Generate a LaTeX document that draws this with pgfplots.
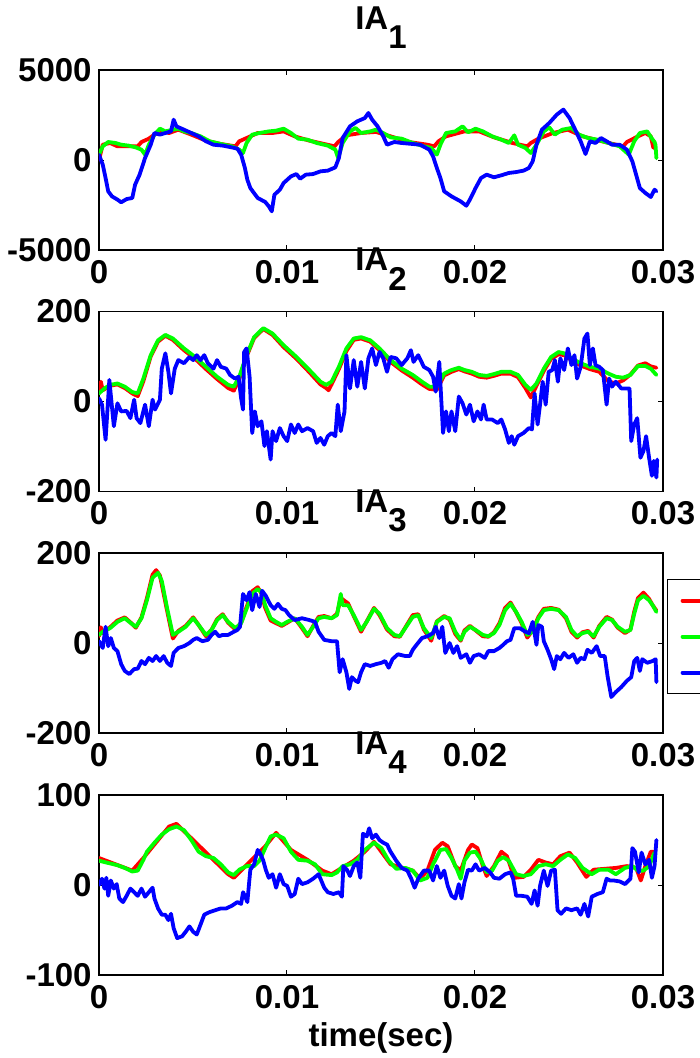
\documentclass[border=0pt]{standalone}
\usepackage{pgfplots}
\pgfplotsset{compat=1.18}
\usepackage{fontspec}
\setmainfont{Liberation Sans}
\definecolor{mred}{rgb}{1,0,0}
\definecolor{mgreen}{rgb}{0,1,0}
\definecolor{mblue}{rgb}{0,0,1}
\newcommand{\tfont}{\fontsize{16.5bp}{19bp}\selectfont\bfseries}
\pgfplotsset{
  panel/.style={
    scale only axis, width=282bp, height=90bp,
    xmin=0, xmax=30, xtick={0,10,20,30}, xticklabels={0,0.01,0.02,0.03},
    tick align=inside, major tick length=2.5bp,
    axis line style={line width=0.7bp},
    every tick/.style={black, line width=0.5bp},
    xticklabel style={font=\tfont, anchor=base, yshift=-16.5bp, inner sep=0pt},
    yticklabel style={font=\tfont, anchor=east, xshift=-3.5bp, inner sep=0pt},
    every axis title/.style={font=\tfont, at={(axis description cs:0.5,1)}, anchor=base, yshift=20.5bp, inner sep=0pt},
    every axis plot/.append style={line width=1.9bp, line join=round, line cap=round},
    anchor=north west,
  },
}
\begin{document}
\begin{tikzpicture}
% ---------------- Panel 1 ----------------
\begin{axis}[panel, at={(49.5bp,-35bp)},
  ymin=-5000, ymax=5000, ytick={-5000,0,5000}, yticklabels={-5000,0,5000},
  title={IA\raisebox{-0.6em}{1}}]
\addplot[mred] coordinates {(0,20)(0.20,850)(0.59,945)(0.98,760)(1.57,760)(2.06,760)(2.26,1000)(2.65,1185)(2.95,1410)(3.34,1590)(3.73,1500)(4.22,1685)(4.91,1410)(5.69,1075)(6.48,890)(7.26,760)(7.46,1040)(7.85,1220)(8.44,1500)(9.23,1500)(9.82,1590)(10.41,1315)(11.19,1075)(11.98,890)(12.53,760)(12.72,1000)(13.16,1370)(13.94,1500)(14.73,1560)(15.51,1315)(16.49,1000)(17.47,850)(17.83,760)(18.06,1040)(18.46,1315)(19.44,1590)(20.22,1590)(21.01,1260)(21.99,945)(22.78,760)(22.97,945)(23.37,1185)(24.15,1500)(24.94,1685)(25.72,1315)(26.90,1000)(27.88,760)(28.08,1000)(28.67,1315)(29.06,1500)(29.35,1315)(29.49,670)};
\addplot[mgreen] coordinates {(0,300)(0.20,760)(0.49,1000)(0.88,945)(1.18,850)(1.57,800)(1.96,700)(2.26,575)(2.45,300)(2.65,850)(2.95,1410)(3.24,1740)(3.53,1590)(3.93,1685)(4.22,1740)(4.52,1590)(4.91,1500)(5.40,1315)(5.89,1040)(6.48,890)(7.07,760)(7.46,575)(7.66,390)(7.85,945)(8.15,1410)(8.54,1500)(9.03,1590)(9.42,1630)(9.82,1740)(10.21,1500)(10.60,1185)(11.09,1130)(11.58,945)(12.17,800)(12.57,575)(12.72,110)(12.96,945)(13.35,1590)(13.65,1780)(13.94,1500)(14.43,1590)(14.73,1685)(15.12,1500)(15.51,1260)(16.10,1185)(16.69,945)(17.28,760)(17.67,670)(17.97,300)(18.16,850)(18.46,1500)(18.95,1590)(19.34,1870)(19.63,1540)(20.03,1740)(20.42,1590)(20.91,1315)(21.40,1130)(21.80,945)(22.09,1370)(22.29,850)(22.68,670)(22.97,390)(23.27,850)(23.66,1590)(23.95,1815)(24.25,1410)(24.64,1685)(25.13,1780)(25.53,1410)(26.02,1220)(26.51,1130)(27.10,945)(27.69,760)(28.18,300)(28.47,1040)(28.77,1500)(29.16,1590)(29.45,1130)(29.55,1000)(29.60,850)(29.65,100)};
\addplot[mblue] coordinates {(0,296)(0.20,-260)(0.35,-1000)(0.49,-1740)(0.69,-2020)(0.98,-2200)(1.18,-2350)(1.47,-2170)(1.77,-2110)(1.92,-1370)(2.16,-815)(2.45,110)(2.75,850)(2.95,1500)(3.24,1410)(3.53,1500)(3.83,1590)(3.97,2240)(4.12,1870)(4.52,1685)(4.91,1500)(5.30,1315)(5.69,1040)(6.09,850)(6.58,800)(7.07,700)(7.36,630)(7.56,300)(7.76,-440)(7.89,-1090)(8.05,-1560)(8.44,-2110)(8.84,-2330)(9.03,-2570)(9.19,-2850)(9.33,-1930)(9.62,-1650)(9.82,-1280)(10.21,-910)(10.50,-780)(10.70,-1040)(11.00,-815)(11.39,-780)(11.78,-630)(12.17,-590)(12.57,-410)(12.76,110)(12.96,1220)(13.35,1870)(13.74,2150)(14.14,2330)(14.33,2610)(14.53,2240)(14.82,1870)(15.12,1315)(15.32,850)(15.71,1000)(16.10,945)(16.69,890)(17.08,850)(17.57,575)(17.77,200)(17.97,-440)(18.16,-1000)(18.36,-1740)(18.75,-2020)(19.24,-2300)(19.54,-2540)(19.73,-2200)(20.03,-1560)(20.32,-1000)(20.62,-815)(21.01,-960)(21.40,-850)(21.80,-720)(22.19,-670)(22.58,-590)(22.87,-440)(23.07,-75)(23.27,850)(23.56,1685)(23.95,2055)(24.35,2520)(24.70,2800)(25.03,2330)(25.33,1685)(25.62,1040)(25.88,330)(26.11,1040)(26.41,945)(26.70,1220)(27.00,1040)(27.29,850)(27.69,850)(28.08,575)(28.37,-75)(28.57,-815)(28.77,-1560)(29.06,-1830)(29.35,-2055)(29.55,-1650)(29.65,-1740)};
\end{axis}
% ---------------- Panel 2 ----------------
\begin{axis}[panel, at={(49.5bp,-155.75bp)},
  ymin=-200, ymax=200, ytick={-200,0,200}, yticklabels={-200,0,200},
  title={IA\raisebox{-0.6em}{2}}]
\addplot[mred] coordinates {(0,22)(0.10,44)(0.20,25)(0.59,35)(0.98,38)(1.37,30)(1.77,18)(2.06,12)(2.36,45)(2.75,100)(3.14,133)(3.53,146)(3.93,137)(4.52,114)(5.11,95)(5.69,72)(6.28,50)(6.87,30)(7.17,24)(7.46,50)(7.85,100)(8.25,141)(8.74,161)(9.23,148)(9.82,121)(10.50,95)(11.19,65)(11.78,38)(12.08,30)(12.21,25)(12.37,38)(12.76,72)(13.16,112)(13.55,137)(13.94,140)(14.43,133)(14.92,114)(15.51,88)(16.10,69)(16.69,53)(17.18,38)(17.57,28)(17.97,26)(18.36,58)(18.75,66)(19.14,72)(19.44,67)(19.83,62)(20.22,55)(20.62,53)(21.01,57)(21.40,62)(21.89,62)(22.29,54)(22.68,30)(22.97,9)(23.27,35)(23.66,68)(24.05,95)(24.45,105)(24.74,103)(25.13,92)(25.62,80)(26.11,72)(26.61,66)(27.10,45)(27.49,40)(27.88,47)(28.27,60)(28.67,80)(29.06,85)(29.35,78)(29.65,75)};
\addplot[mgreen] coordinates {(0,18)(0.29,29)(0.59,37)(0.98,40)(1.37,33)(1.77,21)(2.06,18)(2.36,51)(2.75,103)(3.14,136)(3.53,148)(3.93,140)(4.52,118)(5.11,99)(5.69,77)(6.28,55)(6.87,37)(7.17,33)(7.46,55)(7.85,103)(8.25,143)(8.74,163)(9.23,151)(9.82,125)(10.50,99)(11.19,70)(11.78,44)(12.08,37)(12.37,44)(12.76,77)(13.16,118)(13.55,140)(13.94,143)(14.43,136)(14.92,118)(15.51,92)(16.10,73)(16.69,59)(17.18,44)(17.57,33)(17.97,33)(18.36,62)(18.75,70)(19.14,75)(19.44,70)(19.83,66)(20.22,59)(20.62,57)(21.01,61)(21.40,66)(21.89,66)(22.29,59)(22.68,37)(22.97,26)(23.27,40)(23.66,73)(24.05,99)(24.45,110)(24.74,107)(25.13,96)(25.62,85)(26.11,77)(26.61,73)(27.10,62)(27.49,55)(27.88,53)(28.27,59)(28.67,79)(29.06,79)(29.35,73)(29.65,59)};
\addplot[mblue] coordinates {(0,7)(0.16,-7)(0.35,-85)(0.55,48)(0.79,-55)(0.98,-4)(1.18,-22)(1.47,-21)(1.67,-37)(1.87,4)(2.00,-37)(2.20,-48)(2.45,-7)(2.65,-55)(2.85,4)(2.98,-18)(3.24,4)(3.34,73)(3.53,107)(3.69,66)(3.83,18)(4.03,73)(4.22,92)(4.52,85)(4.81,99)(5.01,92)(5.20,103)(5.40,92)(5.60,103)(5.79,85)(6.09,73)(6.28,92)(6.48,77)(6.77,73)(6.97,59)(7.23,51)(7.42,55)(7.56,7)(7.66,-18)(7.72,110)(7.85,118)(8.01,55)(8.15,-70)(8.29,-22)(8.44,-55)(8.64,-44)(8.80,-99)(8.93,-66)(9.13,-129)(9.23,-66)(9.42,-88)(9.62,-59)(9.82,-77)(10.01,-88)(10.21,-51)(10.41,-70)(10.60,-51)(10.80,-66)(11.09,-59)(11.39,-66)(11.58,-92)(11.78,-81)(11.98,-96)(12.17,-77)(12.37,-70)(12.57,-77)(12.70,-7)(12.86,-66)(13.06,-22)(13.16,103)(13.35,29)(13.55,92)(13.74,33)(13.94,88)(14.14,29)(14.33,96)(14.53,118)(14.73,81)(14.92,110)(15.12,96)(15.32,66)(15.51,99)(15.81,96)(16.10,81)(16.40,96)(16.59,114)(16.73,88)(16.98,103)(17.28,77)(17.57,70)(17.77,55)(17.91,22)(18.10,88)(18.30,-70)(18.46,-22)(18.61,-66)(18.75,-22)(18.95,-66)(19.14,11)(19.34,-4)(19.54,-29)(19.73,-7)(19.93,-44)(20.13,-22)(20.32,-40)(20.46,-7)(20.62,-40)(20.91,-40)(21.21,-48)(21.40,-40)(21.60,-62)(21.80,-92)(21.95,-77)(22.09,-96)(22.29,-77)(22.58,-70)(22.87,-59)(23.03,-62)(23.17,18)(23.33,-51)(23.46,-7)(23.60,44)(23.76,-7)(23.92,66)(24.11,70)(24.25,92)(24.41,44)(24.54,96)(24.74,70)(24.94,118)(25.13,81)(25.29,103)(25.43,51)(25.62,77)(25.82,140)(25.98,151)(26.11,81)(26.27,118)(26.41,81)(26.61,77)(26.80,70)(27.00,-7)(27.14,51)(27.29,33)(27.49,44)(27.78,29)(28.08,29)(28.22,29)(28.31,-88)(28.47,-51)(28.63,-37)(28.80,-125)(28.96,-110)(29.10,-77)(29.26,-125)(29.41,-165)(29.51,-132)(29.65,-169)(29.69,-129)};
\end{axis}
% ---------------- Panel 3 ----------------
\begin{axis}[panel, at={(49.5bp,-276.5bp)},
  ymin=-200, ymax=200, ytick={-200,0,200}, yticklabels={-200,0,200},
  title={IA\raisebox{-0.6em}{3}},
  legend style={at={(1.007,0.8556)}, anchor=north west, draw=black, line width=0.7bp,
    inner xsep=6.5bp, inner ysep=1.5bp, font=\fontsize{12bp}{14bp}\selectfont\bfseries,
    nodes={inner sep=2bp, minimum height=18bp}, row sep=0pt},
  legend cell align=left,
  legend image code/.code={\draw[#1] (0bp,0bp) -- (30bp,0bp);}]
\addplot[mred] coordinates {(0,15)(0.10,35)(0.20,22)(0.59,35)(0.98,50)(1.37,57)(1.67,46)(1.96,34)(2.26,57)(2.55,100)(2.85,152)(3.04,162)(3.24,150)(3.63,70)(3.93,10)(4.22,27)(4.61,38)(5.01,57)(5.30,40)(5.69,15)(5.99,30)(6.28,53)(6.58,64)(6.87,45)(7.26,30)(7.56,45)(7.85,80)(8.15,115)(8.44,124)(8.64,110)(8.84,78)(9.13,50)(9.42,44)(9.72,38)(10.01,45)(10.41,55)(10.80,33)(11.09,15)(11.39,38)(11.68,58)(11.98,60)(12.37,55)(12.66,65)(12.86,100)(13.25,88)(13.55,60)(13.94,25)(14.24,48)(14.63,78)(14.92,62)(15.32,30)(15.71,15)(16.00,14)(16.40,42)(16.69,62)(16.98,64)(17.28,30)(17.67,5)(17.97,48)(18.36,60)(18.65,52)(18.95,20)(19.24,5)(19.44,28)(19.73,38)(20.03,28)(20.42,15)(20.71,14)(21.01,24)(21.30,44)(21.60,78)(21.89,90)(22.19,68)(22.48,44)(22.78,12)(23.07,28)(23.37,58)(23.66,76)(24.05,78)(24.45,74)(24.84,55)(25.13,25)(25.43,12)(25.72,24)(26.02,27)(26.31,12)(26.61,38)(27.00,58)(27.29,52)(27.59,34)(27.98,22)(28.27,30)(28.47,70)(28.67,100)(28.96,112)(29.26,98)(29.45,84)(29.65,72)};
\addlegendentry{}
\addplot[mgreen] coordinates {(0,18)(0.20,25)(0.59,33)(0.98,47)(1.37,55)(1.67,45)(1.96,36)(2.26,55)(2.55,95)(2.85,145)(3.14,156)(3.34,138)(3.63,76)(3.93,18)(4.22,25)(4.61,36)(5.01,55)(5.30,40)(5.69,18)(5.99,29)(6.28,51)(6.58,62)(6.87,47)(7.26,33)(7.56,44)(7.85,76)(8.15,109)(8.44,120)(8.64,113)(8.84,84)(9.13,55)(9.42,47)(9.72,40)(10.01,47)(10.41,55)(10.80,36)(11.09,18)(11.39,36)(11.68,55)(11.98,58)(12.37,55)(12.66,62)(12.86,109)(12.96,84)(13.25,84)(13.55,62)(13.94,29)(14.24,47)(14.63,76)(14.92,65)(15.32,33)(15.71,18)(16.00,15)(16.40,40)(16.69,58)(16.98,62)(17.28,33)(17.67,11)(17.97,47)(18.36,58)(18.65,55)(18.95,25)(19.24,7)(19.44,25)(19.73,36)(20.03,29)(20.42,18)(20.71,15)(21.01,22)(21.30,40)(21.60,73)(21.89,87)(22.19,69)(22.48,47)(22.78,18)(23.07,25)(23.37,55)(23.66,73)(24.05,76)(24.45,73)(24.84,58)(25.13,29)(25.43,15)(25.72,22)(26.02,25)(26.31,15)(26.61,36)(27.00,55)(27.29,51)(27.59,36)(27.98,25)(28.27,29)(28.47,65)(28.67,95)(28.96,105)(29.26,95)(29.45,84)(29.65,69)};
\addlegendentry{}
\addplot[mblue] coordinates {(0,4)(0.20,-11)(0.35,36)(0.49,-7)(0.63,11)(0.79,-11)(0.98,-18)(1.18,-47)(1.37,-62)(1.61,-69)(1.87,-58)(2.06,-57)(2.26,-40)(2.45,-47)(2.65,-33)(2.85,-40)(3.04,-29)(3.24,-40)(3.44,-29)(3.63,-44)(3.83,-51)(3.97,-22)(4.22,-11)(4.52,-7)(4.81,0)(5.01,7)(5.20,11)(5.50,4)(5.79,7)(5.99,18)(6.18,25)(6.38,15)(6.58,18)(6.87,18)(7.17,25)(7.36,29)(7.50,36)(7.66,109)(7.85,95)(8.01,113)(8.15,73)(8.34,109)(8.54,80)(8.68,116)(8.87,105)(9.13,84)(9.33,76)(9.52,87)(9.72,76)(9.92,73)(10.11,62)(10.41,51)(10.80,55)(11.19,51)(11.49,47)(11.68,25)(11.98,7)(12.37,4)(12.66,4)(12.80,-65)(12.96,-36)(13.16,-65)(13.31,-102)(13.45,-76)(13.65,-84)(13.78,-87)(13.94,-65)(14.14,-47)(14.43,-51)(14.73,-47)(15.02,-44)(15.22,-40)(15.41,-55)(15.61,-36)(15.90,-25)(16.30,-29)(16.53,-29)(16.69,-15)(16.89,-4)(17.18,11)(17.47,15)(17.77,22)(17.91,36)(18.10,11)(18.26,36)(18.42,-22)(18.65,0)(18.85,-22)(19.05,-7)(19.24,-33)(19.54,-25)(19.73,-44)(19.93,-29)(20.22,-25)(20.52,-33)(20.71,-18)(21.01,-18)(21.30,-11)(21.50,-4)(21.70,4)(21.89,7)(22.09,33)(22.38,33)(22.68,25)(22.87,22)(23.07,47)(23.27,-4)(23.37,40)(23.56,36)(23.66,4)(23.86,-15)(24.05,-36)(24.21,-58)(24.35,-29)(24.54,-36)(24.74,-22)(24.98,-33)(25.23,-25)(25.43,-44)(25.62,-33)(25.82,-36)(25.98,-15)(26.21,-22)(26.47,-7)(26.66,-29)(26.90,-29)(27.06,-76)(27.25,-120)(27.49,-109)(27.78,-98)(28.08,-84)(28.31,-76)(28.47,-40)(28.63,-33)(28.77,-62)(28.90,-36)(29.16,-44)(29.45,-40)(29.61,-36)(29.65,-87)};
\addlegendentry{}
\end{axis}
% ---------------- Panel 4 ----------------
\begin{axis}[panel, at={(49.5bp,-397.5bp)},
  ymin=-100, ymax=100, ytick={-100,0,100}, yticklabels={-100,0,100},
  title={IA\raisebox{-0.6em}{4}},
  xlabel={time(sec)},
  xlabel style={font=\tfont, at={(axis description cs:0.5,0)}, anchor=base, yshift=-35.5bp, inner sep=0pt}]
\addplot[mred] coordinates {(0,30)(1.77,16)(2.36,30)(3.73,65)(4.12,68)(4.91,52)(6.87,12)(7.17,8)(8.84,43)(9.42,58)(10.21,39)(11.09,28)(11.88,16)(12.37,12)(13.55,27)(14.14,37)(14.63,48)(15.51,23)(16.69,16)(17.08,7)(17.47,16)(17.87,39)(18.26,47)(18.55,43)(18.95,21)(19.24,16)(19.63,39)(19.83,45)(20.13,41)(20.42,21)(20.62,10)(21.01,21)(21.40,37)(21.70,32)(22.09,8)(22.58,9)(22.97,17)(23.37,28)(23.76,25)(24.15,23)(24.54,32)(25.03,36)(25.43,25)(25.92,9)(26.31,17)(26.90,18)(27.49,19)(28.08,21)(28.57,19)(28.82,5)(29.06,21)(29.35,37)(29.49,37)};
\addplot[mgreen] coordinates {(0,27)(0.39,25)(0.98,22)(1.37,19)(1.77,15)(2.06,16)(2.36,28)(2.55,37)(2.95,47)(3.34,56)(3.73,62)(4.12,65)(4.52,61)(4.91,50)(5.30,37)(5.69,32)(6.09,30)(6.48,23)(6.87,14)(7.17,11)(7.46,17)(7.85,21)(8.25,21)(8.54,27)(8.84,41)(9.13,54)(9.42,56)(9.82,52)(10.21,37)(10.60,28)(11.09,27)(11.49,23)(11.88,12)(12.37,11)(12.66,14)(12.96,21)(13.35,23)(13.74,28)(14.14,39)(14.63,47)(15.02,41)(15.41,27)(15.81,18)(16.30,19)(16.69,16)(17.08,5)(17.47,8)(17.77,23)(18.16,39)(18.46,40)(18.75,30)(19.05,17)(19.24,7)(19.44,27)(19.73,36)(20.03,37)(20.32,28)(20.62,14)(20.91,16)(21.21,27)(21.50,31)(21.80,27)(22.19,12)(22.58,10)(22.97,12)(23.37,21)(23.76,23)(24.15,21)(24.54,28)(24.94,34)(25.33,30)(25.72,19)(26.21,12)(26.61,17)(27.10,17)(27.49,12)(27.98,19)(28.37,21)(28.67,16)(28.96,16)(29.26,21)(29.55,36)};
\addplot[mblue] coordinates {(0,0)(0.16,7)(0.29,-4)(0.39,8)(0.49,-12)(0.63,5)(0.79,-4)(0.94,1)(1.08,-15)(1.28,-19)(1.47,-12)(1.67,-4)(1.87,-8)(2.06,-12)(2.26,-4)(2.45,-13)(2.65,-8)(2.85,-3)(2.95,-15)(3.14,-26)(3.34,-33)(3.53,-33)(3.69,-39)(3.83,-32)(3.97,-48)(4.16,-59)(4.42,-57)(4.61,-52)(4.81,-46)(5.01,-52)(5.20,-55)(5.40,-44)(5.60,-33)(5.89,-30)(6.18,-28)(6.48,-26)(6.77,-26)(7.07,-23)(7.36,-19)(7.56,-21)(7.66,-8)(7.76,-12)(7.89,-19)(8.05,17)(8.25,23)(8.44,39)(8.60,34)(8.74,27)(8.87,17)(9.03,8)(9.23,12)(9.42,-3)(9.62,12)(9.82,1)(10.01,-1)(10.21,-13)(10.41,-10)(10.60,7)(10.80,1)(11.09,3)(11.39,7)(11.68,12)(11.98,-3)(12.17,-8)(12.47,-10)(12.76,-8)(12.92,-13)(13.00,21)(13.19,17)(13.35,10)(13.55,21)(13.74,25)(13.90,8)(14.04,57)(14.24,54)(14.37,63)(14.53,52)(14.73,56)(14.92,50)(15.12,47)(15.32,45)(15.51,37)(15.81,27)(16.10,19)(16.40,16)(16.59,8)(16.79,-3)(16.98,7)(17.28,16)(17.57,16)(17.77,5)(17.97,21)(18.16,8)(18.36,16)(18.55,-1)(18.75,-12)(18.95,-15)(19.14,1)(19.28,-15)(19.44,3)(19.63,17)(19.83,16)(20.03,23)(20.22,16)(20.52,19)(20.81,14)(21.01,8)(21.30,7)(21.60,12)(21.89,14)(22.03,7)(22.19,-12)(22.48,-12)(22.78,-13)(23.01,-21)(23.17,-6)(23.33,-23)(23.46,-1)(23.66,16)(23.86,-1)(24.05,16)(24.25,17)(24.39,-28)(24.58,-32)(24.84,-26)(25.13,-28)(25.43,-26)(25.62,-33)(25.82,-21)(26.02,-35)(26.21,-13)(26.51,-10)(26.80,-8)(27.00,7)(27.19,5)(27.39,5)(27.69,4)(27.98,1)(28.27,7)(28.37,41)(28.51,37)(28.71,14)(28.86,36)(29.06,23)(29.26,28)(29.41,8)(29.55,21)(29.65,50)};
\end{axis}
\pgfresetboundingbox
\path[use as bounding box] (0,0) rectangle (350bp,-529bp);
\end{tikzpicture}
\end{document}
